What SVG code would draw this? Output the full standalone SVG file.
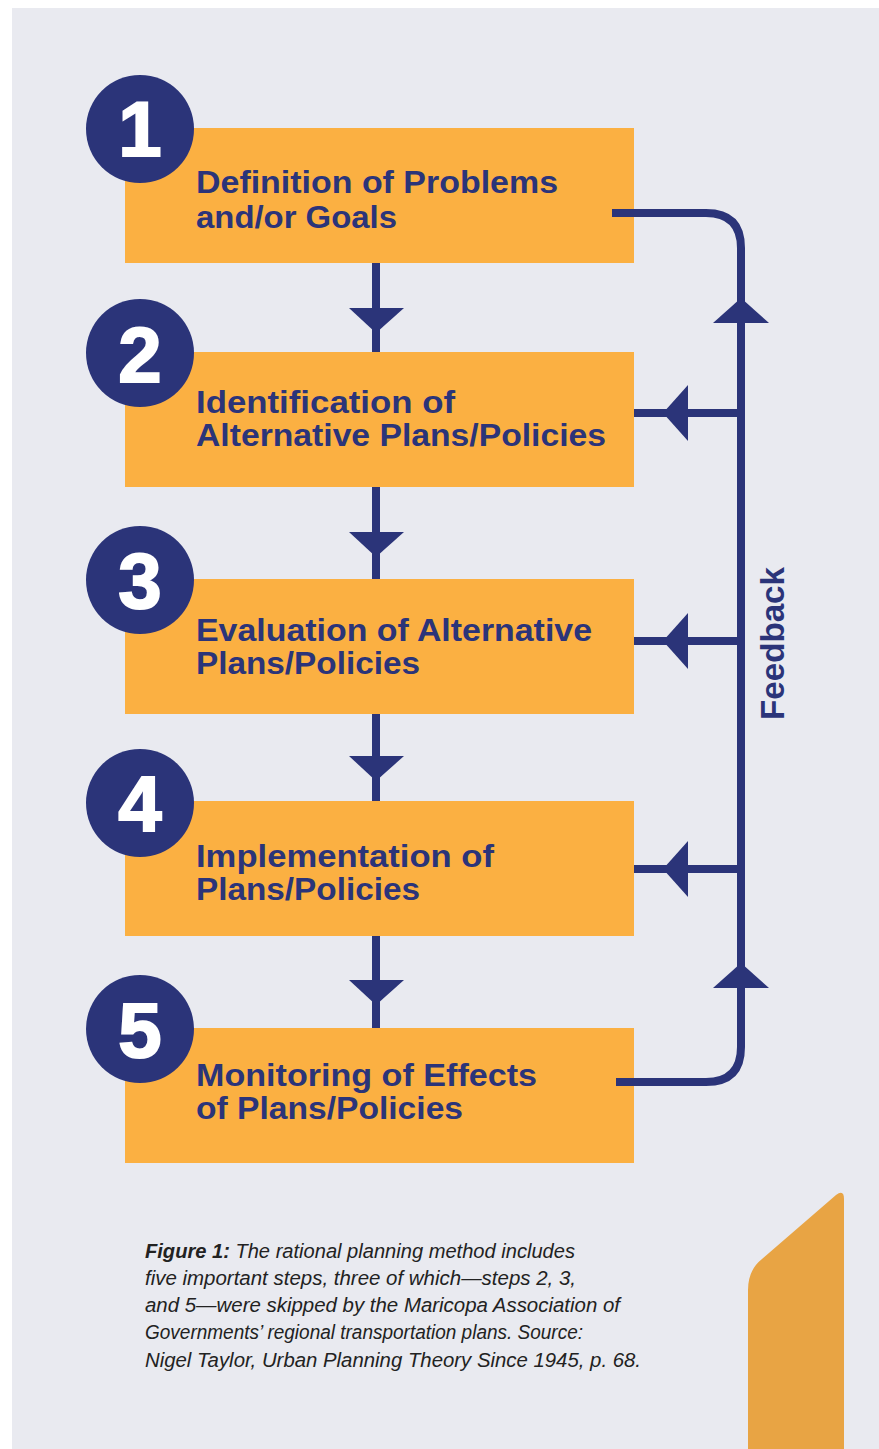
<svg xmlns="http://www.w3.org/2000/svg" width="879" height="1449" viewBox="0 0 879 1449">
  <style>
    .box { fill: #FBB042; }
    .badge { fill: #2B3479; }
    .num { font-family: "Liberation Sans", Arial, sans-serif; font-weight: bold; font-size: 78px; fill: #FFFFFF; stroke: #FFFFFF; stroke-width: 2; text-anchor: middle; }
    .label { font-family: "Liberation Sans", Arial, sans-serif; font-weight: bold; font-size: 32px; fill: #2B3479; }
    .side { font-family: "Liberation Sans", Arial, sans-serif; font-weight: bold; font-size: 34px; fill: #2B3479; }
    .wire { fill: none; stroke: #2B3479; stroke-width: 8; }
    .head { fill: #2B3479; }
    .cap { font-family: "Liberation Sans", Arial, sans-serif; font-style: italic; font-size: 19.5px; fill: #222222; }
  </style>

  <!-- page and panel -->
  <rect x="0" y="0" width="879" height="1449" fill="#FFFFFF"/>
  <rect x="12" y="8" width="867" height="1441" fill="#E9EAF0"/>

  <!-- decorative tab, bottom right -->
  <path d="M748,1290 Q748,1270 762,1259 L836,1195 Q844,1189 844,1199 L844,1449 L748,1449 Z" fill="#E8A444"/>

  <!-- step 1 -->
  <g id="step1">
    <rect class="box" x="125" y="128" width="509" height="135"/>
    <circle class="badge" cx="140" cy="129" r="54"/>
    <text class="num" x="140" y="156">1</text>
    <text class="label" x="196" y="193" textLength="362" lengthAdjust="spacingAndGlyphs">Definition of Problems</text>
    <text class="label" x="196" y="228" textLength="201" lengthAdjust="spacingAndGlyphs">and/or Goals</text>
  </g>

  <!-- step 2 -->
  <g id="step2">
    <rect class="box" x="125" y="352" width="509" height="135"/>
    <circle class="badge" cx="140" cy="353" r="54"/>
    <text class="num" x="140" y="382">2</text>
    <text class="label" x="196" y="413" textLength="259" lengthAdjust="spacingAndGlyphs">Identification of</text>
    <text class="label" x="196" y="446" textLength="410" lengthAdjust="spacingAndGlyphs">Alternative Plans/Policies</text>
  </g>

  <!-- step 3 -->
  <g id="step3">
    <rect class="box" x="125" y="579" width="509" height="135"/>
    <circle class="badge" cx="140" cy="580" r="54"/>
    <text class="num" x="140" y="608">3</text>
    <text class="label" x="196" y="641" textLength="396" lengthAdjust="spacingAndGlyphs">Evaluation of Alternative</text>
    <text class="label" x="196" y="674" textLength="224" lengthAdjust="spacingAndGlyphs">Plans/Policies</text>
  </g>

  <!-- step 4 -->
  <g id="step4">
    <rect class="box" x="125" y="801" width="509" height="135"/>
    <circle class="badge" cx="140" cy="803" r="54"/>
    <text class="num" x="140" y="831">4</text>
    <text class="label" x="196" y="867" textLength="298" lengthAdjust="spacingAndGlyphs">Implementation of</text>
    <text class="label" x="196" y="900" textLength="224" lengthAdjust="spacingAndGlyphs">Plans/Policies</text>
  </g>

  <!-- step 5 -->
  <g id="step5">
    <rect class="box" x="125" y="1028" width="509" height="135"/>
    <circle class="badge" cx="140" cy="1029" r="54"/>
    <text class="num" x="140" y="1057">5</text>
    <text class="label" x="196" y="1086" textLength="341" lengthAdjust="spacingAndGlyphs">Monitoring of Effects</text>
    <text class="label" x="196" y="1119" textLength="267" lengthAdjust="spacingAndGlyphs">of Plans/Policies</text>
  </g>

  <!-- connectors, drawn over the boxes so the loop ends sit inside steps 1 and 5 -->
  <g id="connectors">
    <!-- downward arrows between steps -->
    <line class="wire" x1="376" y1="263" x2="376" y2="352"/>
    <polygon class="head" points="349,308 404,308 376,333"/>
    <line class="wire" x1="376" y1="487" x2="376" y2="579"/>
    <polygon class="head" points="349,532 404,532 376,557"/>
    <line class="wire" x1="376" y1="714" x2="376" y2="801"/>
    <polygon class="head" points="349,756 404,756 376,781"/>
    <line class="wire" x1="376" y1="936" x2="376" y2="1028"/>
    <polygon class="head" points="349,980 404,980 376,1005"/>

    <!-- feedback loop -->
    <path class="wire" d="M612,213 L706,213 Q741,213 741,248 L741,1047 Q741,1082 706,1082 L616,1082"/>
    <polygon class="head" points="741,298 769,323 713,323"/>
    <polygon class="head" points="741,963 769,988 713,988"/>

    <!-- feedback returns into steps 2-4 -->
    <line class="wire" x1="634" y1="413" x2="741" y2="413"/>
    <polygon class="head" points="663,413 688,385 688,441"/>
    <line class="wire" x1="634" y1="641" x2="741" y2="641"/>
    <polygon class="head" points="663,641 688,613 688,669"/>
    <line class="wire" x1="634" y1="869" x2="741" y2="869"/>
    <polygon class="head" points="663,869 688,841 688,897"/>

    <text transform="translate(784,720) rotate(-90)" class="side" textLength="153" lengthAdjust="spacingAndGlyphs">Feedback</text>
  </g>

  <!-- caption -->
  <g id="caption">
    <text class="cap" x="145" y="1258" textLength="430" lengthAdjust="spacingAndGlyphs"><tspan font-weight="bold">Figure 1:</tspan> The rational planning method includes</text>
    <text class="cap" x="145" y="1285" textLength="431" lengthAdjust="spacingAndGlyphs">five important steps, three of which—steps 2, 3,</text>
    <text class="cap" x="145" y="1312" textLength="475" lengthAdjust="spacingAndGlyphs">and 5—were skipped by the Maricopa Association of</text>
    <text class="cap" x="145" y="1339" textLength="438" lengthAdjust="spacingAndGlyphs">Governments’ regional transportation plans. Source:</text>
    <text class="cap" x="145" y="1367" textLength="496" lengthAdjust="spacingAndGlyphs">Nigel Taylor, Urban Planning Theory Since 1945, p. 68.</text>
  </g>
</svg>
